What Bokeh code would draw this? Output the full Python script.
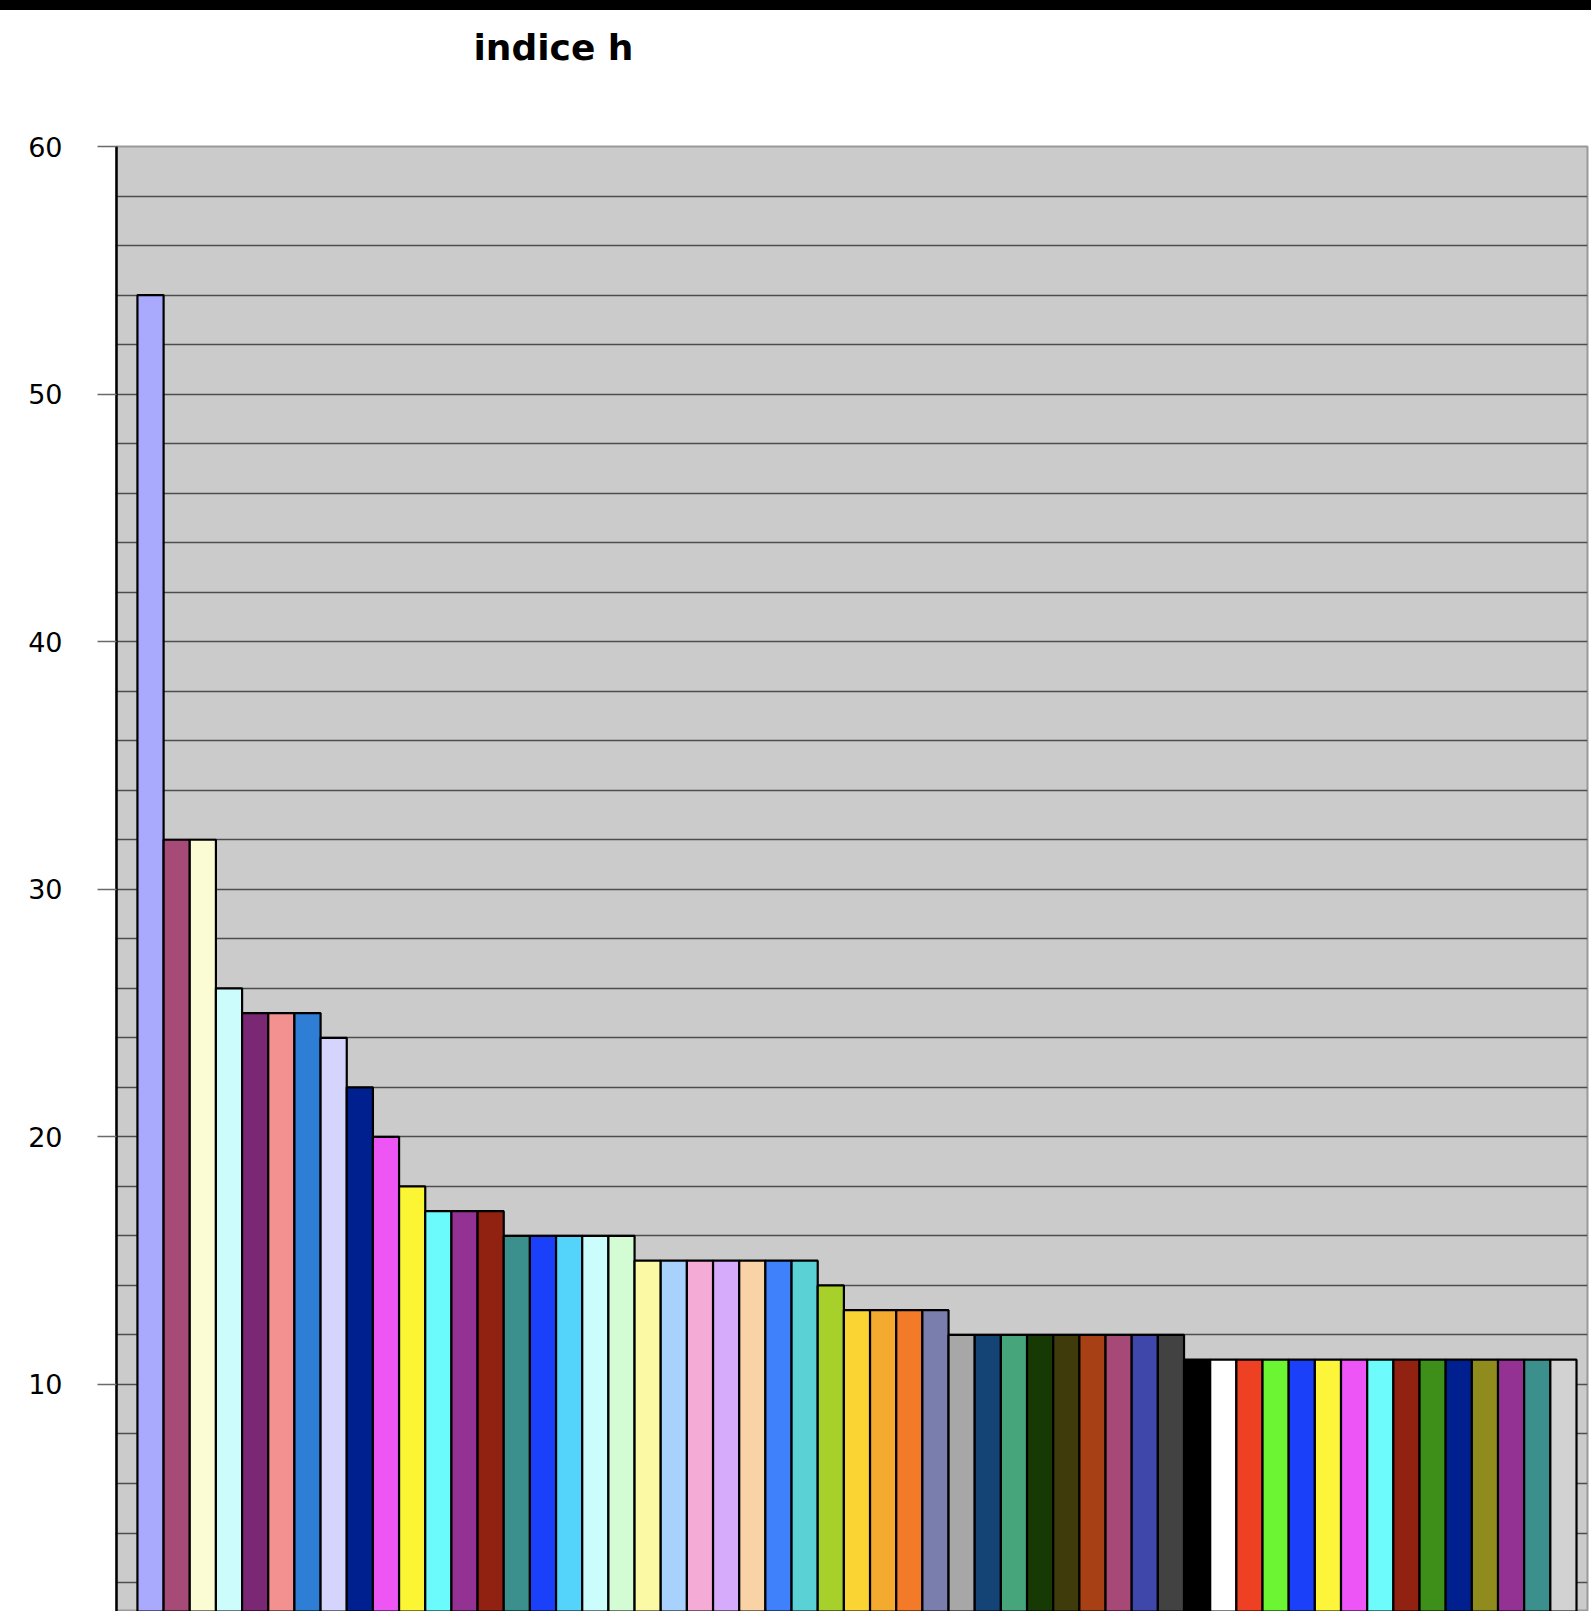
from bokeh.plotting import figure
from bokeh.models import Range1d, FixedTicker, ColumnDataSource, Div
from bokeh.layouts import column
from bokeh.embed import file_html
from bokeh.resources import INLINE
from bokeh.core.properties import value

# --- data -------------------------------------------------------------
title_text = "indice h"

# h-index of each author, sorted from highest to lowest
h_index = [
    54, 32, 32, 26, 25, 25, 25, 24, 22, 20,
    18, 17, 17, 17, 16, 16, 16, 16, 16, 15,
    15, 15, 15, 15, 15, 15, 14, 13, 13, 13,
    13, 12, 12, 12, 12, 12, 12, 12, 12, 12,
    11, 11, 11, 11, 11, 11, 11, 11, 11, 11,
    11, 11, 11, 11, 11,
]

# one colour per bar
bar_colors = [
    "#a9a9fd", "#a64a78", "#fcfcd4", "#ccfcfc", "#7a2774", "#f39090", "#2d7ed4", "#d5d4fc", "#00208f", "#ee55f5",
    "#fcf534", "#6bfbfc", "#933293", "#912110", "#3b8f8c", "#1a40fa", "#55d4fb", "#ccfdfd", "#d4fcd4", "#fcf9a4",
    "#a8d2fd", "#f4abd5", "#d6abfc", "#f9d3a6", "#3f80fb", "#5ad1d5", "#a7d12a", "#fad433", "#f3aa2f", "#f27a28",
    "#7a7ead", "#a7a7a7", "#144476", "#46a57a", "#173a04", "#3f3b0b", "#a84016", "#a64977", "#3f47aa", "#424242",
    "#000000", "#ffffff", "#ee4022", "#6cf533", "#1a40fa", "#fcf53a", "#ee55f7", "#6dfbfc", "#912110", "#3e8f1a",
    "#00208f", "#8f8b1d", "#933293", "#3b8f8c", "#d2d2d2",
]

y_tick_values = [10, 20, 30, 40, 50, 60]
y_grid_values = [2, 4, 6, 8, 10, 12, 14, 16, 18, 20, 22, 24, 26, 28, 30,
                 32, 34, 36, 38, 40, 42, 44, 46, 48, 50, 52, 54, 56, 58]

positions = list(range(1, len(h_index) + 1))

source = ColumnDataSource(data=dict(x=positions, top=h_index, color=bar_colors))

LEFT, RIGHT = 116, 4  # side borders shared by the stacked figures

# --- black strip along the top of the page -----------------------------
band = Div(text="", width=1591, height=10, margin=0,
           styles={"background-color": "black"})

# --- title row: page-pixel coordinates (y measured downward) -------------
header = figure(width=1591, height=90, toolbar_location=None, output_backend="svg",
                x_range=Range1d(LEFT, 1591 - RIGHT), y_range=Range1d(100, 10),
                x_axis_location=None, y_axis_location=None,
                background_fill_color="white", border_fill_color="white",
                outline_line_color=None,
                min_border_left=LEFT, min_border_right=RIGHT,
                min_border_top=0, min_border_bottom=0)
header.xgrid.grid_line_color = None
header.ygrid.grid_line_color = None
header.text(x=[553], y=[47], text=[title_text],
            text_font=value("DejaVu Sans"), text_font_style="bold",
            text_font_size="36px", text_color="black",
            text_align="center", text_baseline="middle")

# --- main bar chart -----------------------------------------------------
p = figure(
    width=1591, height=1511,
    x_range=Range1d(-0.30, 55.92),
    y_range=Range1d(0.83, 60),
    output_backend="svg", toolbar_location=None,
    x_axis_location=None,
    min_border_left=LEFT, min_border_right=RIGHT,
    min_border_top=46, min_border_bottom=0,
    background_fill_color="#cbcbcb", border_fill_color="white",
    outline_line_color="#9a9a9a", outline_line_width=2,
)

p.vbar(x="x", top="top", bottom=0, width=1.0, source=source,
       fill_color="color", line_color="black", line_width=2.2)

p.xgrid.grid_line_color = None
p.ygrid.ticker = FixedTicker(ticks=y_grid_values)
p.ygrid.grid_line_color = "#4d4d4d"
p.ygrid.grid_line_width = 1.6

ax = p.yaxis[0]
ax.ticker = FixedTicker(ticks=y_tick_values, minor_ticks=[])
ax.axis_line_color = "black"
ax.axis_line_width = 2.5
ax.major_tick_in = 0
ax.major_tick_out = 19
ax.major_tick_line_color = "#6a6a6a"
ax.major_tick_line_width = 1.6
ax.minor_tick_line_color = None
ax.major_label_standoff = 35
ax.major_label_text_font = "DejaVu Sans"
ax.major_label_text_font_size = "27px"
ax.major_label_text_color = "black"

layout = column(band, header, p, spacing=0)

with open("out.html", "w") as f:
    f.write(file_html(layout, INLINE))
